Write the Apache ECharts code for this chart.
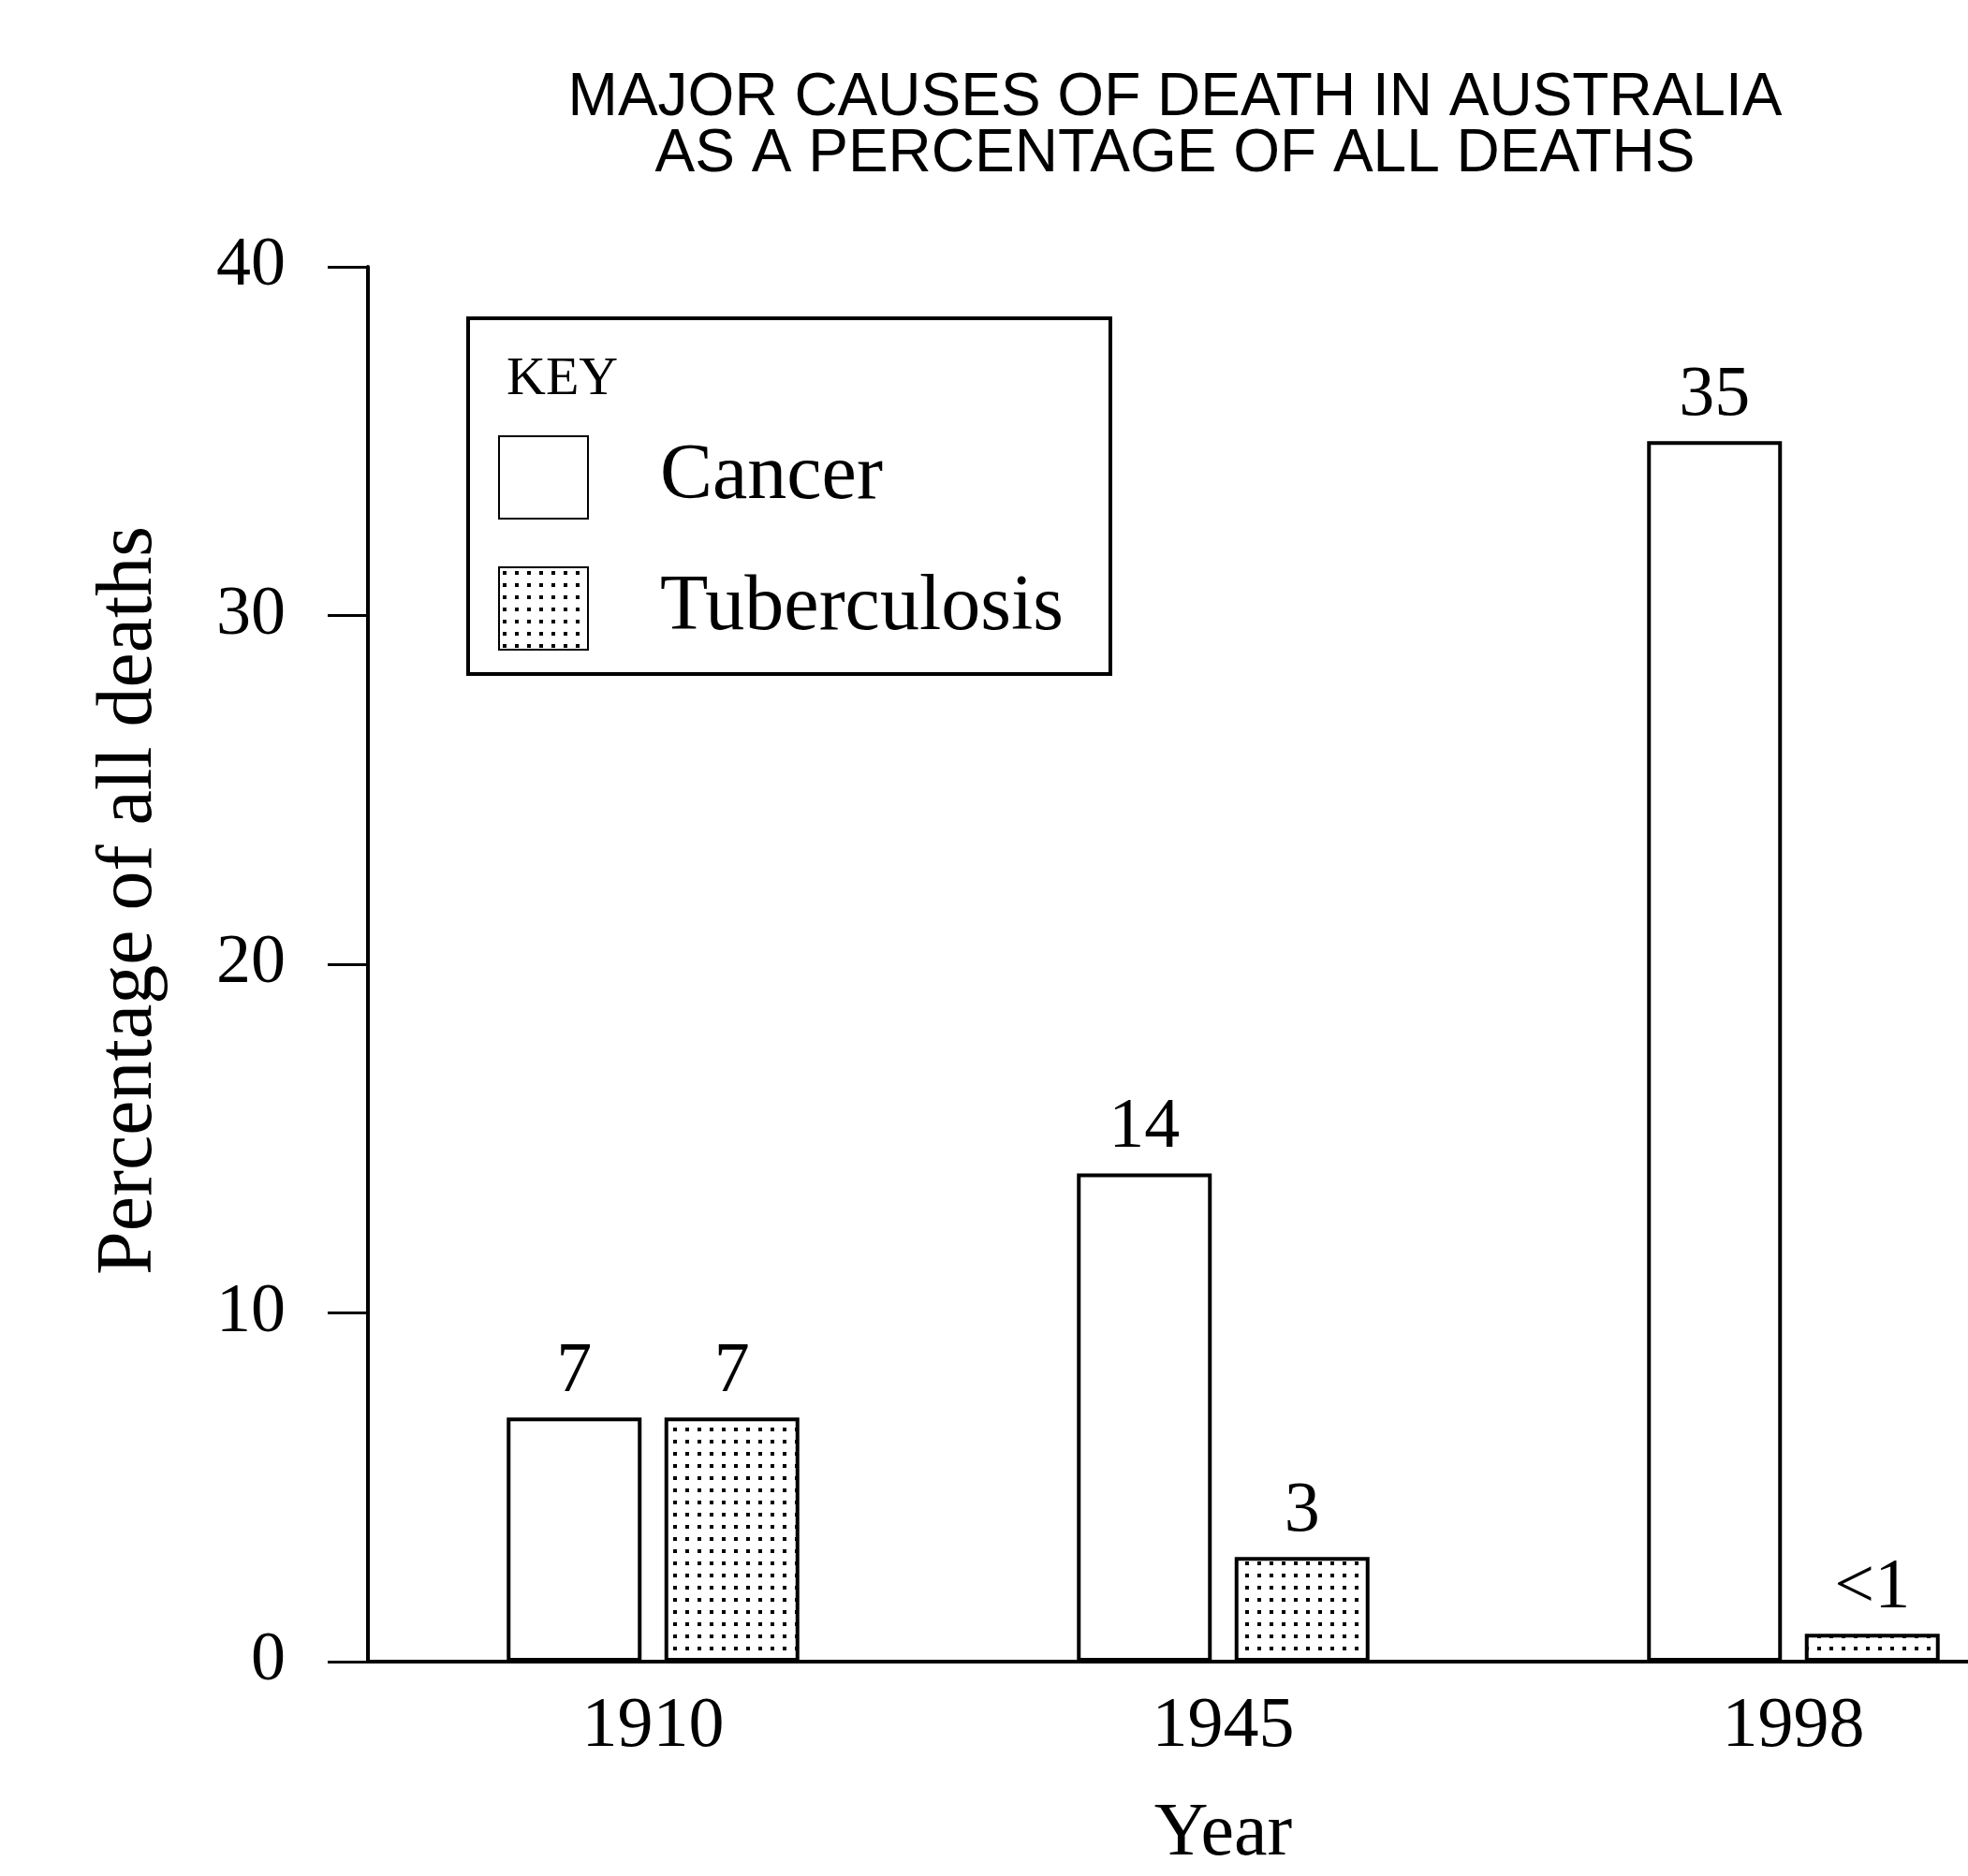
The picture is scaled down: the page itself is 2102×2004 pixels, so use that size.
<!DOCTYPE html>
<html>
<head>
<meta charset="utf-8">
<script src="https://cdn.jsdelivr.net/npm/echarts@6/dist/echarts.min.js"></script>
<style>
  html, body { margin: 0; padding: 0; background: #fff; }
  #chart { width: 2102px; height: 2004px; }
</style>
</head>
<body>
<div id="chart"></div>
<script>
// data
var years = ['1910', '1945', '1998'];
var cancer = [7, 14, 35];
var tuberculosis = [7, 3, 0.8];
var cancerLabels = ['7', '14', '35'];
var tbLabels = ['7', '3', '<1'];
var yTicks = [0, 10, 20, 30, 40];

// dotted fill for tuberculosis
function dotPattern() {
  var c = document.createElement('canvas');
  c.width = 13; c.height = 13;
  var ctx = c.getContext('2d');
  ctx.fillStyle = '#fff';
  ctx.fillRect(0, 0, 13, 13);
  ctx.fillStyle = '#000';
  ctx.fillRect(4, 4, 4, 4);
  return c;
}

var serif = '"Liberation Serif", "DejaVu Serif", serif';

var myChart = echarts.init(document.getElementById('chart'));
var option = {
  backgroundColor: '#fff',
  animation: false,
  title: [
    {
      text: 'MAJOR CAUSES OF DEATH IN AUSTRALIA\nAS A PERCENTAGE OF ALL DEATHS',
      left: 1250, top: 70, textAlign: 'center',
      textStyle: { fontFamily: '"Liberation Sans", Arial, sans-serif', fontWeight: 'normal',
                   fontSize: 64, lineHeight: 60, color: '#000' }
    },
    {
      text: 'KEY', left: 536, top: 372,
      textStyle: { fontFamily: serif, fontWeight: 'normal', fontSize: 58, color: '#000' }
    }
  ],
  legend: {
    orient: 'vertical',
    left: 500, top: 340,
    padding: [125, 50, 25, 32],
    borderColor: '#000', borderWidth: 4,
    itemWidth: 95, itemHeight: 88, itemGap: 50,
    icon: 'rect',
    textStyle: { fontFamily: serif, fontSize: 84, lineHeight: 88, color: '#000', padding: [0, 0, 0, 72] },
    data: ['Cancer', 'Tuberculosis']
  },
  grid: { left: 393, right: -118, top: 285, bottom: 229, outerBoundsMode: 'none' },
  xAxis: {
    type: 'category',
    data: years,
    name: 'Year', nameLocation: 'middle', nameGap: 145,
    nameTextStyle: { fontFamily: serif, fontSize: 80, color: '#000' },
    axisLine: { lineStyle: { color: '#000', width: 4 } },
    axisTick: { show: false },
    axisLabel: { margin: 32, fontFamily: serif, fontSize: 76, color: '#000' }
  },
  yAxis: {
    type: 'value',
    min: yTicks[0], max: yTicks[yTicks.length - 1], interval: 10,
    name: 'Percentage of all deaths', nameLocation: 'middle', nameRotate: 90, nameGap: 212,
    nameTextStyle: { fontFamily: serif, fontSize: 84, color: '#000', padding: [0, 0, 0, 136] },
    axisLine: { show: true, lineStyle: { color: '#000', width: 4 } },
    axisTick: { show: true, length: 43, lineStyle: { color: '#000', width: 3 } },
    axisLabel: { margin: 88, fontFamily: serif, fontSize: 74, color: '#000' },
    splitLine: { show: false }
  },
  series: [
    {
      name: 'Cancer', type: 'bar', data: cancer,
      barWidth: 144, barGap: '17%',
      itemStyle: { color: '#fff', borderColor: '#000', borderWidth: 4 },
      label: {
        show: true, position: 'top', distance: 10,
        fontFamily: serif, fontSize: 76, color: '#000',
        formatter: function (p) { return cancerLabels[p.dataIndex]; }
      }
    },
    {
      name: 'Tuberculosis', type: 'bar', data: tuberculosis,
      barWidth: 144,
      itemStyle: { color: { image: dotPattern(), repeat: 'repeat' }, borderColor: '#000', borderWidth: 4 },
      label: {
        show: true, position: 'top', distance: 10,
        fontFamily: serif, fontSize: 76, color: '#000',
        formatter: function (p) { return tbLabels[p.dataIndex]; }
      }
    }
  ]
};
myChart.setOption(option);
</script>
</body>
</html>
